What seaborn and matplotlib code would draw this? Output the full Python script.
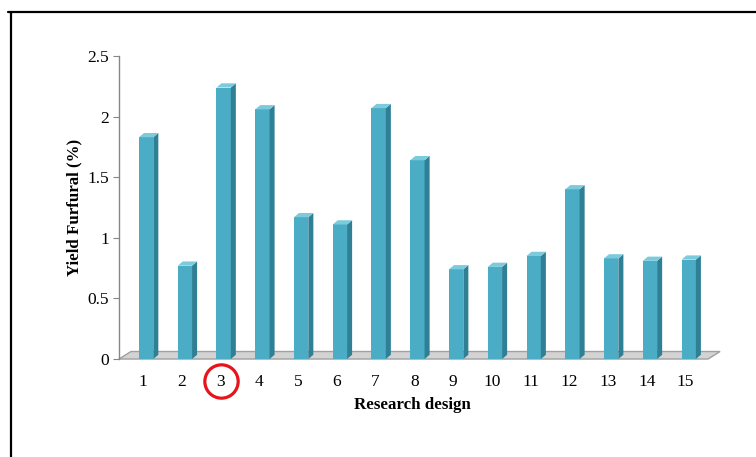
import matplotlib
matplotlib.use("Agg")
import matplotlib.pyplot as plt
import matplotlib.transforms as mtransforms
from matplotlib.patches import Polygon
from matplotlib.lines import Line2D
import seaborn as sns
import pandas as pd

# data
designs = [str(i) for i in range(1, 16)]
yield_furfural = [1.83, 0.77, 2.24, 2.06, 1.17, 1.11, 2.07, 1.64,
                  0.74, 0.76, 0.85, 1.40, 0.83, 0.81, 0.82]
y_ticks = [0, 0.5, 1, 1.5, 2, 2.5]
y_tick_labels = ["0", "0.5", "1", "1.5", "2", "2.5"]
marked_design = "3"

df = pd.DataFrame({"Research design": designs, "Yield": yield_furfural})

sns.set_style("white")
plt.rcParams["font.family"] = ["Liberation Serif", "DejaVu Serif"]
plt.rcParams["text.color"] = "black"
plt.rcParams["axes.labelcolor"] = "black"

front = "#4BACC6"
side = "#2F7F95"
top = "#7CCBDD"

fig = plt.figure(figsize=(7.56, 4.57), dpi=100)
ax = fig.add_axes([0.1574, 0.2144, 0.7751, 0.663])

sns.barplot(data=df, x="Research design", y="Yield", color=front,
            saturation=1, width=0.37, ax=ax, zorder=3)

# 3d look: offsets in data units
dx, dy = 0.13, 0.035
for p in ax.patches:
    p.set_x(p.get_x() + 0.08)
    p.set_linewidth(0)
    x, w, h = p.get_x(), p.get_width(), p.get_height()
    ax.add_patch(Polygon([(x + w, 0), (x + w + dx, dy), (x + w + dx, h + dy), (x + w, h)],
                         closed=True, facecolor=side, edgecolor="none", zorder=3, clip_on=False))
    ax.add_patch(Polygon([(x, h), (x + w, h), (x + w + dx, h + dy), (x + dx, h + dy)],
                         closed=True, facecolor=top, edgecolor="none", zorder=3, clip_on=False))

ax.set_xlim(-0.62, 14.5)
ax.set_ylim(0, 2.5)

# floor
fx0, fx1 = -0.62, 14.58
ax.add_patch(Polygon([(fx0, 0), (fx1, 0), (fx1 + 0.31, 0.062), (fx0 + 0.31, 0.062)],
                     closed=True, facecolor="#D3D3D3", edgecolor="#A0A0A0",
                     linewidth=1, zorder=2, clip_on=False))

ax.set_yticks(y_ticks)
ax.set_yticklabels(y_tick_labels)
ax.tick_params(axis="y", length=4, color="#868686", labelcolor="black",
               labelsize=12.5, pad=3, left=True)
ax.tick_params(axis="x", length=0, labelcolor="black", labelsize=12.5, pad=11)

for s in ["top", "right", "bottom"]:
    ax.spines[s].set_visible(False)
ax.spines["left"].set_color("#868686")
ax.spines["left"].set_linewidth(1)

ax.set_xlabel("Research design", fontsize=12.2, fontweight="bold", labelpad=5)
ax.set_ylabel("Yield Furfural (%)", fontsize=12.2, fontweight="bold", labelpad=4)

# red circle round design 3
trans = mtransforms.blended_transform_factory(ax.transData, ax.transAxes)
ax.plot([designs.index(marked_design)], [-0.073], marker="o", markersize=24,
        markerfacecolor="none", markeredgecolor="#E8141B", markeredgewidth=2.3,
        transform=trans, clip_on=False, zorder=5)

# outer frame
fig.add_artist(Line2D([0.0106, 1.0], [1 - 12 / 457, 1 - 12 / 457], color="black", linewidth=1.6))
fig.add_artist(Line2D([0.0139, 0.0139], [0, 1 - 12 / 457], color="black", linewidth=1.6))

fig.savefig("out.png", dpi=100)
